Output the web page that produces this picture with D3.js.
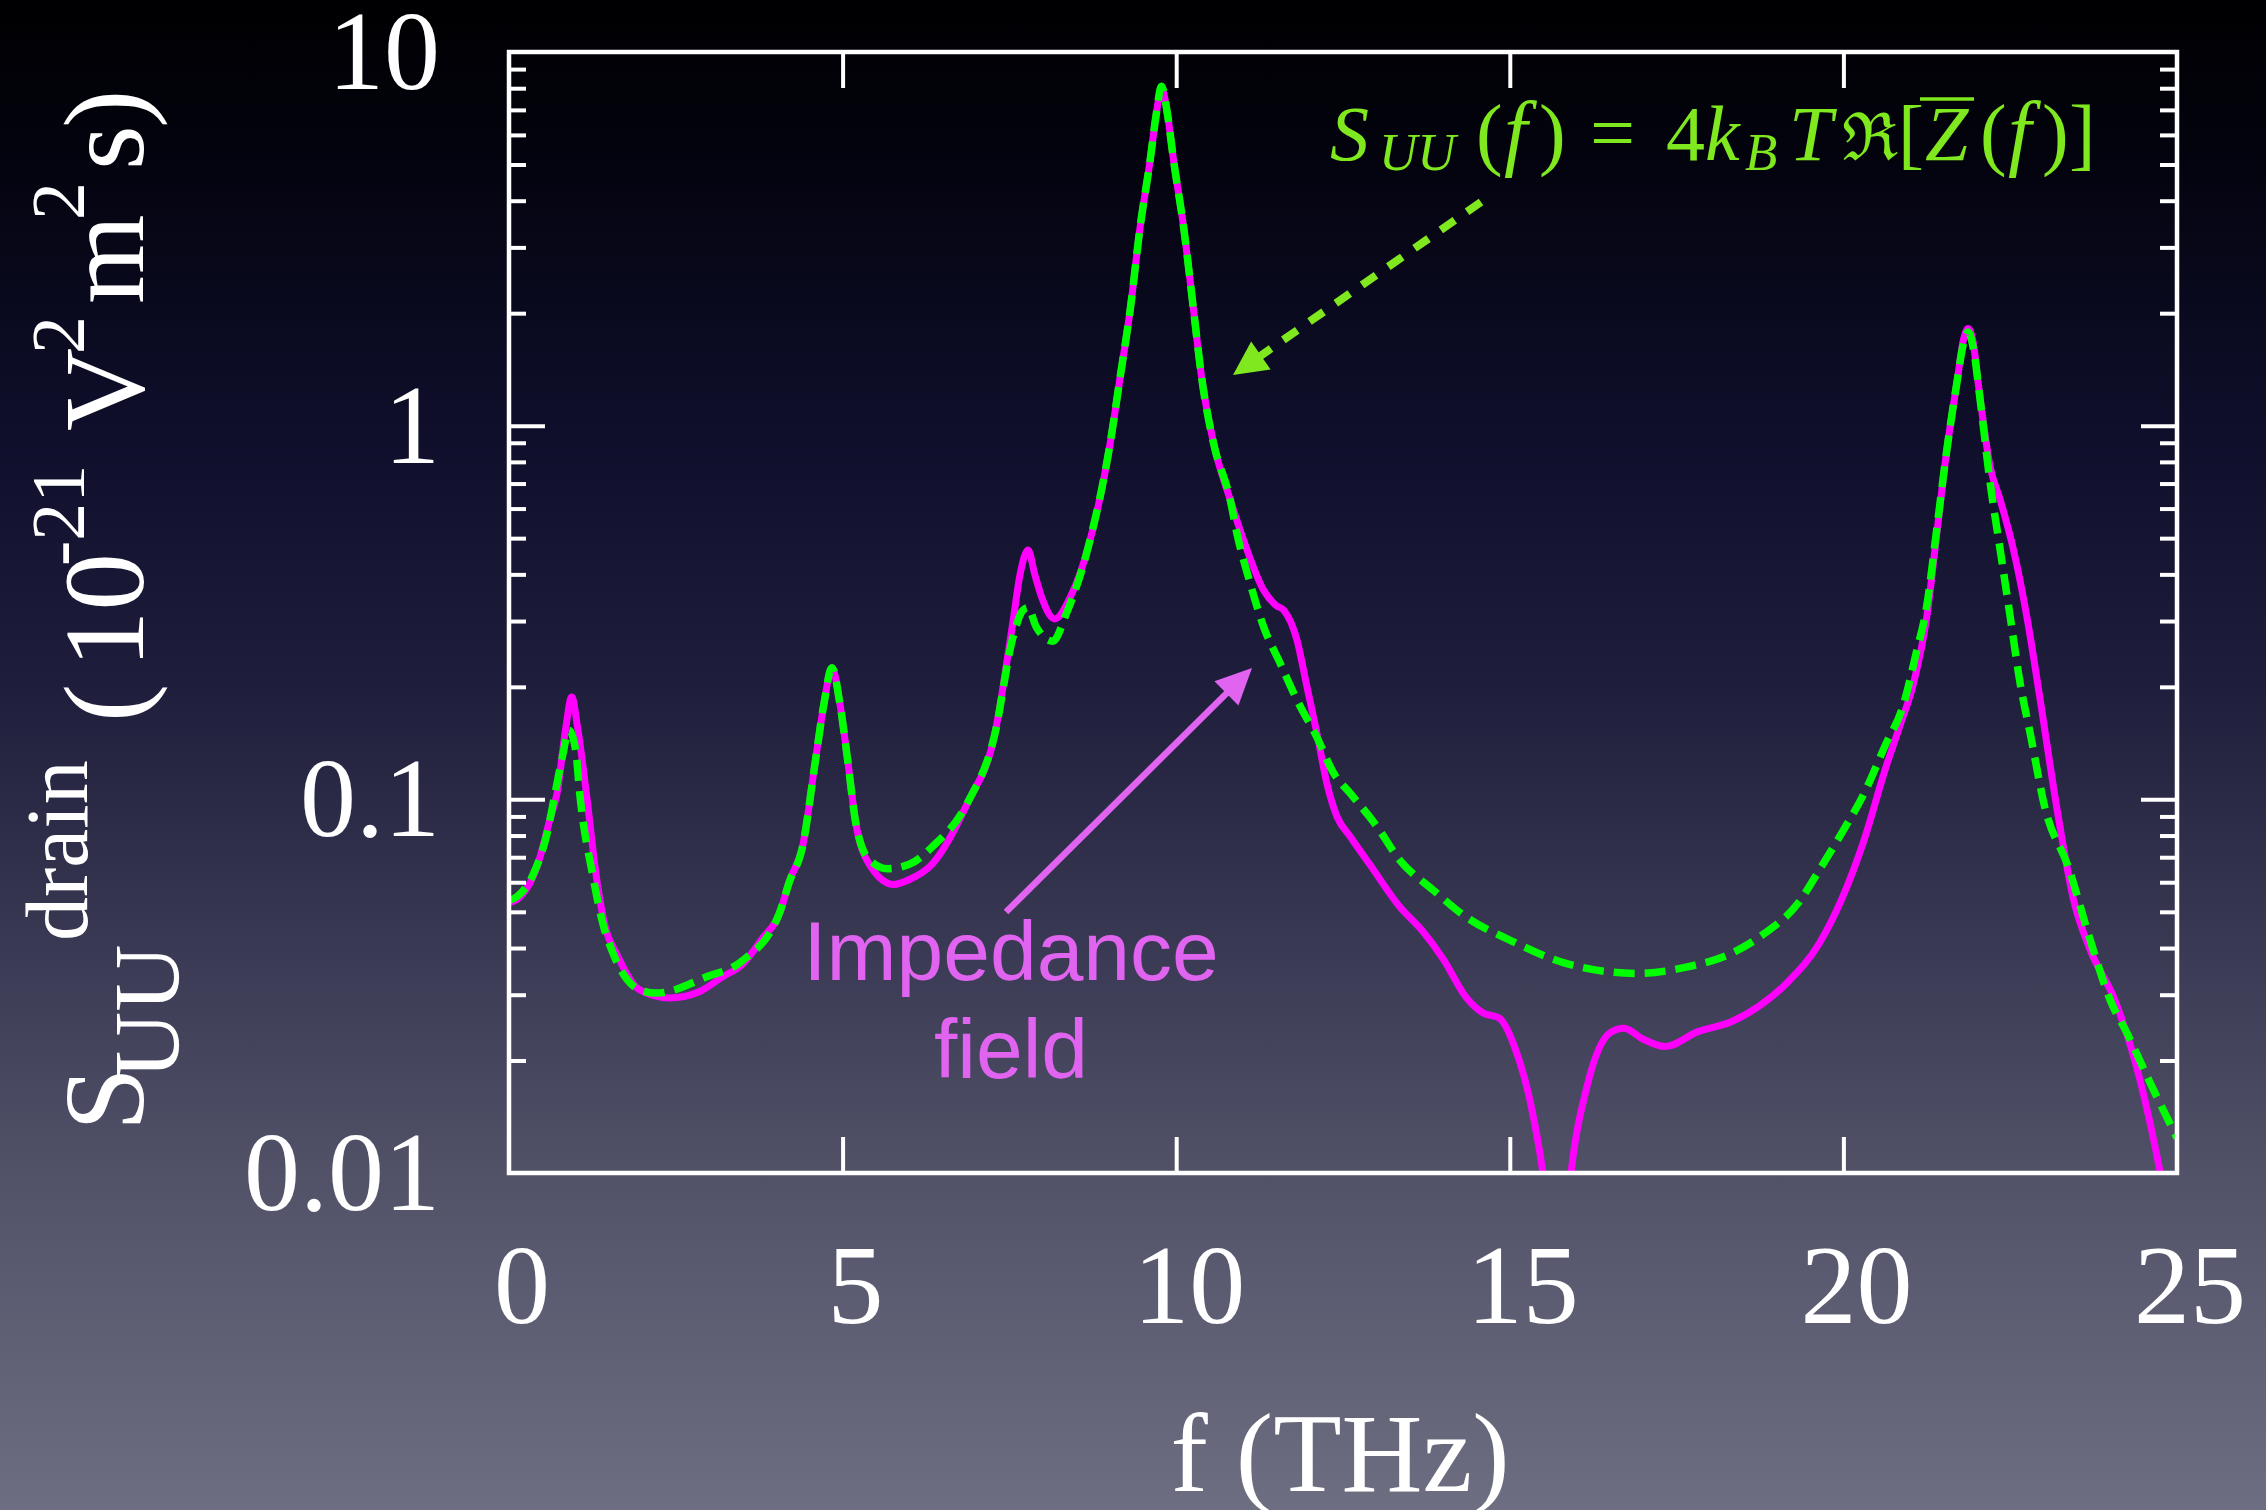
<!DOCTYPE html>
<html>
<head>
<meta charset="utf-8">
<script src="https://cdn.jsdelivr.net/npm/d3@7"></script>
<style>
  html, body { margin: 0; padding: 0; background: #000; }
  svg { display: block; }
</style>
</head>
<body>
<svg id="chart" width="2266" height="1510"></svg>
<script>
// Drain voltage-noise spectrum computed with the impedance-field method (THz, 1e-21 V^2 m^2 s)
const freqImpedance = [0, 0.17, 0.42, 0.61, 0.72, 0.85, 0.94, 1.03, 1.16, 1.31, 1.45, 1.61, 1.96, 2.41, 2.86, 3.2, 3.5, 3.8,
  4.06, 4.2, 4.4, 4.6, 4.72, 4.84, 4.96, 5.07, 5.2, 5.4, 5.77, 6.0, 6.34, 6.88, 7.28, 7.55, 7.66, 7.78, 7.88, 7.98, 8.18,
  8.42, 8.68, 9.01, 9.16, 9.31, 9.46, 9.61, 9.7, 9.78, 9.87, 9.96, 10.11, 10.26, 10.38, 10.56, 10.81, 11.01, 11.31, 11.5,
  11.61, 11.81, 11.96, 12.11, 12.26, 12.41, 12.61, 12.9, 13.35, 13.68, 14.01, 14.34, 14.6, 14.84, 15.09, 15.3, 15.5, 15.65,
  15.8, 15.92, 16.17, 16.5, 16.71, 17.0, 17.33, 17.82, 18.32, 18.73, 19.15, 19.64, 19.97, 20.31, 20.64, 20.85, 21.05, 21.25,
  21.4, 21.55, 21.7, 21.8, 21.87, 21.95, 22.02, 22.2, 22.35, 22.55, 22.75, 22.95, 23.18, 23.45, 23.7, 24.07, 24.45, 24.75, 25.0];
const spectrumImpedance = [0.0528, 0.0549, 0.066, 0.088, 0.1037, 0.155, 0.188, 0.155, 0.1037, 0.062, 0.045, 0.0387, 0.0309,
  0.0294, 0.0306, 0.0335, 0.0362, 0.0425, 0.0497, 0.0603, 0.0748, 0.1297, 0.18, 0.225, 0.18, 0.1297, 0.086, 0.067, 0.0592,
  0.061, 0.067, 0.0985, 0.149, 0.296, 0.40, 0.465, 0.40, 0.349, 0.304, 0.35, 0.4725, 0.897, 1.35, 2.04, 3.41, 5.14, 6.8, 8.0,
  6.8, 5.14, 3.41, 2.04, 1.35, 0.897, 0.633, 0.494, 0.363, 0.33, 0.321, 0.267, 0.2, 0.15, 0.11, 0.0899, 0.0794, 0.067, 0.0516,
  0.0447, 0.0372, 0.0296, 0.0268, 0.026, 0.0213, 0.0157, 0.0099, 0.006, 0.0062, 0.0101, 0.0174, 0.0237, 0.0244, 0.0228,
  0.0218, 0.0239, 0.0254, 0.0279, 0.0322, 0.0412, 0.0538, 0.0778, 0.1223, 0.158, 0.204, 0.308, 0.515, 0.861, 1.30, 1.70,
  1.82, 1.65, 1.30, 0.776, 0.633, 0.465, 0.308, 0.1845, 0.0996, 0.0538, 0.0395, 0.029, 0.0176, 0.0100, 0.0056];

// Same spectrum from the Nyquist relation S_UU = 4 k_B T Re[Z(f)]
const freqNyquist = [0, 0.12, 0.37, 0.57, 0.69, 0.8, 0.9, 1.0, 1.06, 1.26, 1.4, 1.56, 1.96, 2.21, 2.96, 3.5, 4.06, 4.2, 4.4,
  4.6, 4.72, 4.84, 4.96, 5.07, 5.2, 5.4, 5.67, 6.0, 6.34, 6.88, 7.28, 7.55, 7.7, 7.78, 7.9, 8.15, 8.35, 8.68, 9.01, 9.16, 9.31,
  9.46, 9.61, 9.7, 9.78, 9.87, 9.96, 10.11, 10.26, 10.38, 10.56, 10.81, 10.91, 11.11, 11.31, 11.56, 11.81, 12.11, 12.36,
  12.61, 13.0, 13.35, 13.85, 14.34, 15.0, 15.84, 16.91, 17.66, 18.32, 18.82, 19.32, 19.64, 19.97, 20.31, 20.64, 20.89, 21.09,
  21.25, 21.4, 21.55, 21.7, 21.8, 21.87, 21.95, 22.05, 22.2, 22.35, 22.5, 22.65, 22.8, 23.02, 23.37, 23.7, 24.0, 24.25, 24.6, 25.0];
const spectrumNyquist = [0.0536, 0.0549, 0.0634, 0.081, 0.1037, 0.13, 0.153, 0.135, 0.1037, 0.062, 0.047, 0.0387, 0.0309,
  0.0303, 0.0335, 0.037, 0.05, 0.06, 0.0748, 0.1297, 0.18, 0.225, 0.18, 0.1297, 0.086, 0.069, 0.0652, 0.067, 0.0745, 0.0985,
  0.149, 0.27, 0.32, 0.326, 0.29, 0.265, 0.313, 0.4725, 0.897, 1.35, 2.04, 3.41, 5.14, 6.8, 8.1, 6.8, 5.14, 3.41, 2.04, 1.35,
  0.897, 0.633, 0.515, 0.378, 0.2897, 0.231, 0.1845, 0.1465, 0.1175, 0.1037, 0.085, 0.0688, 0.0572, 0.0485, 0.042, 0.0364,
  0.0342, 0.0356, 0.0387, 0.0438, 0.0527, 0.0647, 0.081, 0.1037, 0.141, 0.177, 0.246, 0.33, 0.53, 0.861, 1.30, 1.66, 1.78,
  1.60, 1.171, 0.701, 0.465, 0.308, 0.204, 0.150, 0.095, 0.066, 0.042, 0.029, 0.0237, 0.0174, 0.0124];

// Axis ticks
const xTickValues = [0, 5, 10, 15, 20, 25];
const xTickLabels = ["0", "5", "10", "15", "20", "25"];
const yTickValues = [0.01, 0.1, 1, 10];
const yTickLabels = ["0.01", "0.1", "1", "10"];
const yMinorTicks = [0.02, 0.03, 0.04, 0.05, 0.06, 0.07, 0.08, 0.09, 0.2, 0.3, 0.4, 0.5, 0.6, 0.7, 0.8, 0.9,
  2, 3, 4, 5, 6, 7, 8, 9];

const W = 2266, H = 1510;
const plot = { left: 509, right: 2177, top: 52, bottom: 1173 };

const svg = d3.select("#chart");
const defs = svg.append("defs");

// Background: vertical gradient from black to slate grey
const bg = defs.append("linearGradient").attr("id", "bg").attr("x1", 0).attr("y1", 0).attr("x2", 0).attr("y2", 1);
[[0, "#000002"], [0.1, "#03030e"], [0.29, "#0f0f2c"], [0.45, "#1e1e3c"], [0.53, "#2a2a46"],
 [0.65, "#3d3d57"], [0.77, "#505067"], [1, "#6e6e82"]].forEach(([o, c]) =>
  bg.append("stop").attr("offset", o).attr("stop-color", c));
svg.append("rect").attr("width", W).attr("height", H).attr("fill", "url(#bg)");

defs.append("clipPath").attr("id", "plotClip").append("rect")
  .attr("x", plot.left).attr("y", plot.top)
  .attr("width", plot.right - plot.left).attr("height", plot.bottom - plot.top);

const x = d3.scaleLinear().domain([0, 25]).range([plot.left, plot.right]);
const y = d3.scaleLog().domain([0.01, 10]).range([plot.bottom, plot.top]);

const line = d3.line()
  .x(d => x(d[0]))
  .y(d => y(d[1]))
  .curve(d3.curveMonotoneX);

const curves = svg.append("g").attr("clip-path", "url(#plotClip)");
curves.append("path")
  .datum(d3.zip(freqImpedance, spectrumImpedance))
  .attr("d", line)
  .attr("fill", "none")
  .attr("stroke", "#ff00ff")
  .attr("stroke-width", 7)
  .attr("stroke-linejoin", "round");
curves.append("path")
  .datum(d3.zip(freqNyquist, spectrumNyquist))
  .attr("d", line)
  .attr("fill", "none")
  .attr("stroke", "#00ff00")
  .attr("stroke-width", 7.5)
  .attr("stroke-dasharray", "21 10");

// Axes: inward ticks on all four sides
const axisStyle = g => {
  g.select(".domain").remove();
  g.selectAll("line").attr("stroke", "#fff").attr("stroke-width", 4);
  g.selectAll("text").remove();
};
const xMajor = [5, 10, 15, 20];
svg.append("g").attr("transform", `translate(0,${plot.bottom})`)
  .call(d3.axisBottom(x).tickValues(xMajor).tickSize(-36)).call(axisStyle);
svg.append("g").attr("transform", `translate(0,${plot.top})`)
  .call(d3.axisTop(x).tickValues(xMajor).tickSize(-36)).call(axisStyle);
svg.append("g").attr("transform", `translate(${plot.left},0)`)
  .call(d3.axisLeft(y).tickValues([0.1, 1]).tickSize(-36)).call(axisStyle);
svg.append("g").attr("transform", `translate(${plot.left},0)`)
  .call(d3.axisLeft(y).tickValues(yMinorTicks).tickSize(-17)).call(axisStyle);
svg.append("g").attr("transform", `translate(${plot.right},0)`)
  .call(d3.axisRight(y).tickValues([0.1, 1]).tickSize(-36)).call(axisStyle);
svg.append("g").attr("transform", `translate(${plot.right},0)`)
  .call(d3.axisRight(y).tickValues(yMinorTicks).tickSize(-17)).call(axisStyle);

svg.append("rect")
  .attr("x", plot.left).attr("y", plot.top)
  .attr("width", plot.right - plot.left).attr("height", plot.bottom - plot.top)
  .attr("fill", "none").attr("stroke", "#fff").attr("stroke-width", 4.5);

// Tick labels
const serif = "'Liberation Serif', 'Times New Roman', serif";
svg.append("g").selectAll("text").data(xTickValues).join("text")
  .attr("x", d => x(d) + 13).attr("y", 1323)
  .attr("text-anchor", "middle")
  .attr("font-family", serif).attr("font-size", 112).attr("fill", "#fff")
  .text((d, i) => xTickLabels[i]);
svg.append("g").selectAll("text").data(yTickValues).join("text")
  .attr("x", 440).attr("y", d => y(d) + 37)
  .attr("text-anchor", "end")
  .attr("font-family", serif).attr("font-size", 112).attr("fill", "#fff")
  .text((d, i) => yTickLabels[i]);

// Axis titles
svg.append("text")
  .attr("x", 1340).attr("y", 1491)
  .attr("text-anchor", "middle")
  .attr("font-family", serif).attr("font-size", 112).attr("fill", "#fff")
  .text("f (THz)");

// Vertical title, built from pieces: [text, start (page y), baseline (page x), size]
const yTitle = [
  ["S", 1131, 143, 115],
  ["UU", 1079, 178, 93],
  ["drain", 941, 87, 88],
  ["(", 722, 143, 115],
  ["10", 668, 143, 115],
  ["-21", 566, 84, 76],
  ["V", 431, 143, 115],
  ["2", 354, 84, 76],
  ["m", 304, 143, 115],
  ["2", 220, 84, 76],
  ["s", 170, 143, 115],
  [")", 128, 143, 115]
];
const yTitleG = svg.append("g");
yTitle.forEach(([t, sy, bx, fs]) => {
  yTitleG.append("text")
    .attr("transform", `translate(${bx},${sy}) rotate(-90)`)
    .attr("font-family", serif).attr("font-size", fs).attr("fill", "#fff")
    .text(t);
});

// Annotation: Nyquist formula with dashed arrow
const green = "#7fe81e";
const formula = svg.append("text")
  .attr("font-family", serif).attr("font-size", 78).attr("fill", green);
const fPieces = [
  ["S", 1330, 160, 78, "italic", serif],
  ["UU", 1379, 170, 53, "italic", serif],
  ["(", 1476, 160, 80, "normal", serif],
  ["f", 1504, 160, 84, "italic", serif],
  [")", 1539, 160, 80, "normal", serif],
  ["=", 1590, 160, 80, "normal", serif],
  ["4", 1666, 160, 78, "normal", serif],
  ["k", 1705, 160, 78, "italic", serif],
  ["B", 1745, 170, 53, "italic", serif],
  ["T", 1789, 160, 78, "italic", serif],
  ["\u211C", 1842, 160, 66, "normal", "'DejaVu Serif', serif"],
  ["[", 1898, 160, 78, "normal", serif],
  ["Z", 1925, 160, 78, "italic", serif],
  ["(", 1980, 160, 80, "normal", serif],
  ["f", 2008, 160, 84, "italic", serif],
  [")", 2042, 160, 80, "normal", serif],
  ["]", 2069, 160, 80, "normal", serif]
];
fPieces.forEach(([t, px, py, fs, st, ff]) => {
  formula.append("tspan").attr("x", px).attr("y", py)
    .attr("font-size", fs).attr("font-style", st).attr("font-family", ff).text(t);
});
svg.append("line").attr("x1", 1920).attr("x2", 1974).attr("y1", 99).attr("y2", 99)
  .attr("stroke", green).attr("stroke-width", 3.5);

function arrow(x0, y0, x1, y1, headLen, headHalf, color, width, dash) {
  const dx = x1 - x0, dy = y1 - y0, len = Math.hypot(dx, dy);
  const ux = dx / len, uy = dy / len;
  const bx = x1 - ux * headLen, by = y1 - uy * headLen;
  svg.append("line").attr("x1", x0).attr("y1", y0).attr("x2", bx + ux * 2).attr("y2", by + uy * 2)
    .attr("stroke", color).attr("stroke-width", width)
    .attr("stroke-dasharray", dash || null);
  svg.append("path")
    .attr("d", `M${x1},${y1}L${bx - uy * headHalf},${by + ux * headHalf}L${bx + uy * headHalf},${by - ux * headHalf}Z`)
    .attr("fill", color);
}
arrow(1481, 202, 1233, 375, 34, 17, green, 8, "17 15");

// Annotation: impedance-field label with arrow
const orchid = "#e064f0";
arrow(1006, 912, 1252, 668, 36, 17, orchid, 6.5, null);
const sans = "'Liberation Sans', Arial, sans-serif";
svg.append("text").attr("x", 1011).attr("y", 980).attr("text-anchor", "middle")
  .attr("font-family", sans).attr("font-size", 84).attr("fill", orchid).text("Impedance");
svg.append("text").attr("x", 1011).attr("y", 1078).attr("text-anchor", "middle")
  .attr("font-family", sans).attr("font-size", 84).attr("fill", orchid).text("field");
</script>
</body>
</html>
